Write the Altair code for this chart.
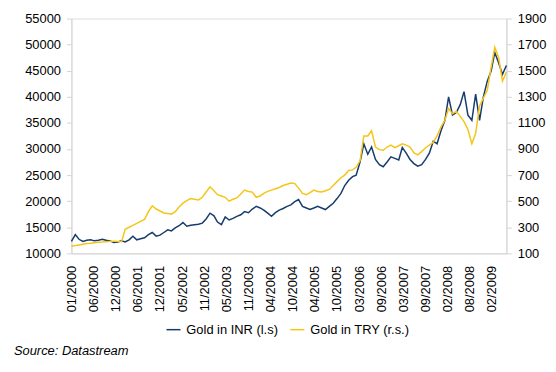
import altair as alt
import pandas as pd

# Monthly readings (start Jan 2000, one per month)
INR = [12300, 13600, 12700, 12300, 12500, 12600, 12400, 12500, 12700, 12500,
       12400, 12100, 12200, 12400, 12200, 12600, 13300, 12600, 12800, 13000,
       13600, 14000, 13300, 13500, 14000, 14500, 14300, 14900, 15300, 15900,
       15200, 15400, 15500, 15600, 15800, 16600, 17700, 17200, 16000, 15500,
       17000, 16400, 16700, 17100, 17400, 18000, 17800, 18500, 19000, 18700,
       18300, 17700, 17100, 17800, 18300, 18600, 19000, 19300, 19900, 20300,
       19000, 18700, 18400, 18700, 19000, 18700, 18400, 19000, 19600, 20500,
       21500, 23000, 24000, 24700, 25000, 27500, 31000, 29000, 30400, 28000,
       27000, 26600, 27500, 28500, 28200, 27900, 30300, 29200, 28000, 27200,
       26700, 27000, 28000, 29200, 31500, 31000, 33500, 35500, 40000, 36500,
       37000, 38500, 41000, 36500, 35500, 40500, 35500, 40000, 43000, 45000,
       48500, 46500, 44300, 46000]
TRY = [155, 160, 165, 170, 175, 178, 182, 185, 187, 190,
       192, 193, 192, 190, 285, 300, 315, 330, 345, 360,
       420, 465, 440, 425, 410, 405, 400, 420, 455, 485,
       505, 520, 515, 510, 530, 570, 610, 580, 550, 540,
       530, 500, 515, 525, 555, 585, 575, 570, 530, 540,
       560, 575, 585, 595, 605, 620, 630, 640, 635, 600,
       560, 550, 565, 585, 575, 570, 580, 590, 620, 650,
       680, 700, 735, 740, 760, 810, 1000, 1000, 1040, 915,
       895, 890, 915, 930, 910, 925, 940, 930, 915, 870,
       855, 880, 910, 930, 950, 1000, 1070, 1120, 1210, 1170,
       1190, 1150, 1110, 1050, 940, 1020, 1230, 1290, 1350, 1530,
       1680, 1600, 1420, 1490]
DATES = [f"{2000 + m // 12}-{m % 12 + 1:02d}-07" for m in range(len(INR))]

TICK_DATES = [(2000, 1, 7), (2000, 6, 30), (2000, 12, 22), (2001, 6, 15),
              (2001, 12, 7), (2002, 5, 31), (2002, 11, 22), (2003, 5, 16),
              (2003, 11, 7), (2004, 4, 30), (2004, 10, 22), (2005, 4, 15),
              (2005, 10, 7), (2006, 3, 31), (2006, 9, 22), (2007, 3, 16),
              (2007, 9, 7), (2008, 2, 29), (2008, 8, 22), (2009, 2, 13)]
LEFT_TICKS = list(range(10000, 55001, 5000))
RIGHT_TICKS = list(range(100, 1901, 200))
SERIES = ["Gold in INR (l.s)", "Gold in TRY (r.s.)"]
COLORS = ["#173c6b", "#f5c518"]

df = pd.DataFrame({"date": DATES, "inr": INR, "try": TRY})

FONT = "Liberation Sans"
GRAY = "#d4d4d4"

xscale = alt.Scale(domain=[alt.DateTime(year=2000, month=1, date=7),
                           alt.DateTime(year=2009, month=6, date=7)], nice=False)
xaxis = alt.Axis(values=[alt.DateTime(year=y, month=m, date=d) for y, m, d in TICK_DATES],
                 format="%m/%Y", labelAngle=270, labelAlign="right", labelBaseline="middle",
                 labelPadding=12, ticks=False, domainColor=GRAY, title=None,
                 labelFont=FONT, labelFontSize=13, labelColor="#000", grid=False,
                 labelOverlap=False, labelBound=False, labelFlush=False)
color = alt.Color("s:N", scale=alt.Scale(domain=SERIES, range=COLORS),
                  legend=alt.Legend(title=None, orient="none", direction="horizontal",
                                    legendX=95, legendY=306, symbolType="stroke",
                                    symbolSize=200, symbolStrokeWidth=1.5,
                                    symbolFillColor="transparent",
                                    labelFont=FONT, labelFontSize=13, labelColor="#000",
                                    columnPadding=8, labelOffset=5))

base = alt.Chart(df)
inr_line = base.mark_line(strokeWidth=1.5).transform_calculate(
    s=f"'{SERIES[0]}'").encode(
    x=alt.X("date:T", scale=xscale, axis=xaxis),
    y=alt.Y("inr:Q", scale=alt.Scale(domain=[10000, 55000], nice=False, zero=False),
            axis=alt.Axis(values=LEFT_TICKS, format="d", orient="left", grid=False,
                          domainColor=GRAY, tickColor=GRAY, tickSize=5, labelPadding=6,
                          labelFont=FONT, labelFontSize=13, labelColor="#000", title=None)),
    color=color,
)
try_line = base.mark_line(strokeWidth=1.5).transform_calculate(
    s=f"'{SERIES[1]}'").encode(
    x=alt.X("date:T", scale=xscale, axis=xaxis),
    y=alt.Y("try:Q", scale=alt.Scale(domain=[100, 1900], nice=False, zero=False),
            axis=alt.Axis(values=RIGHT_TICKS, format="d", orient="right", grid=False,
                          domainColor=GRAY, tickColor=GRAY, tickSize=5, labelPadding=6,
                          labelFont=FONT, labelFontSize=13, labelColor="#000", title=None)),
    color=color,
)
source = alt.Chart(pd.DataFrame({"t": ["Source: Datastream"]})).mark_text(
    align="left", baseline="alphabetic", font=FONT, fontSize=13, fontStyle="italic",
    color="#000").encode(text="t:N", x=alt.value(-58), y=alt.value(340))

chart = alt.layer(inr_line, try_line, source).resolve_scale(y="independent").properties(
    width=439, height=237,
    autosize=alt.AutoSizeParams(type="none"),
    padding={"left": 64, "top": 9, "right": 42, "bottom": 110},
).configure_view(stroke=None).configure(background="white")

chart.save("out.html", embed_options={"renderer": "svg", "actions": False})
